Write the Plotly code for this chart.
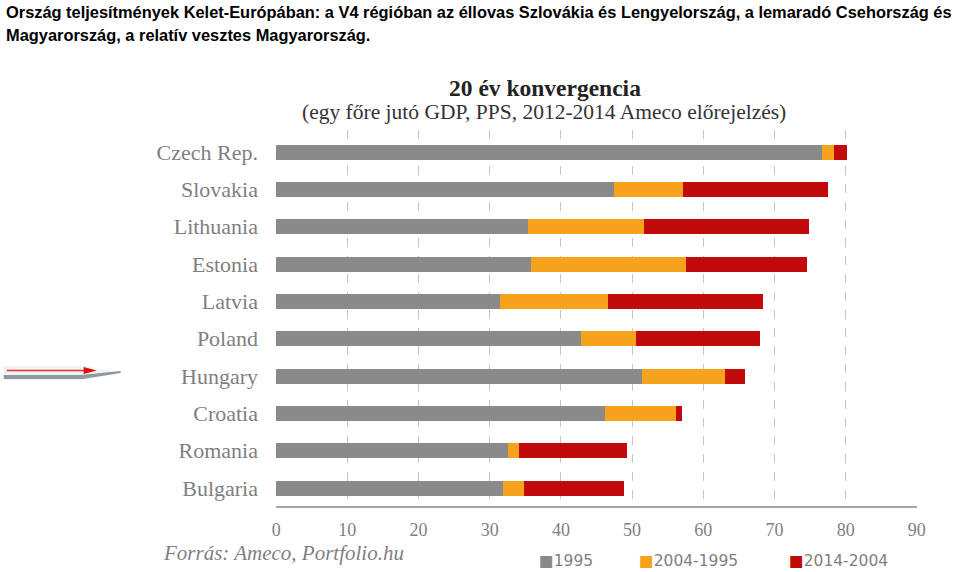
import plotly.graph_objects as go

countries = ["Czech Rep.", "Slovakia", "Lithuania", "Estonia", "Latvia",
             "Poland", "Hungary", "Croatia", "Romania", "Bulgaria"]
v1995 = [76.7, 47.5, 35.4, 35.8, 31.4, 42.8, 51.4, 46.2, 32.6, 31.8]
v2004_1995 = [1.7, 9.7, 16.3, 21.8, 15.2, 7.8, 11.7, 9.9, 1.5, 3.0]
v2014_2004 = [1.8, 20.3, 23.2, 16.9, 21.8, 17.4, 2.8, 0.9, 15.2, 14.1]
series_names = ["1995", "2004-1995", "2014-2004"]
colors = ["#8a8a8a", "#f7a21c", "#c20a0a"]
xticks = [0, 10, 20, 30, 40, 50, 60, 70, 80, 90]

W, H = 960, 572
L, R, T, B = 275.5, 917, 130, 506

def px(x):
    return (x - L) / (R - L)

def py(y):
    return (B - y) / (B - T)

fig = go.Figure()
for name, vals, col in zip(series_names, [v1995, v2004_1995, v2014_2004], colors):
    fig.add_trace(go.Bar(y=countries, x=vals, orientation="h", name=name,
                         marker=dict(color=col, line=dict(width=0)), width=0.4))

serif = "Liberation Serif, DejaVu Serif, serif"
fig.update_layout(
    width=W, height=H, barmode="stack", showlegend=False,
    plot_bgcolor="white", paper_bgcolor="white",
    margin=dict(l=L, r=W - R, t=T, b=H - B, autoexpand=False),
    xaxis=dict(range=[-0.02, 90.02], tickvals=xticks, showgrid=True,
               gridcolor="#c4c4c4", griddash="dash", gridwidth=1,
               zeroline=False, showline=True, linecolor="#a6a6a6", linewidth=1.5,
               tickfont=dict(family=serif, size=18, color="#7f7f7f"),
               ticklabelstandoff=7),
    yaxis=dict(categoryorder="array", categoryarray=countries,
               range=[9.48, -0.59], showgrid=False, zeroline=False,
               tickfont=dict(family=serif, size=22, color="#7f7f7f"),
               ticklabelstandoff=17),
)

ann = []
title_font = dict(family="Liberation Sans, Arial, sans-serif", size=16.4, color="black")
ann.append(dict(text="<b>Ország teljesítmények Kelet-Európában: a V4 régióban az éllovas Szlovákia és Lengyelország, a lemaradó Csehország és</b>",
                x=px(3), y=py(12), xref="paper", yref="paper", xanchor="left", yanchor="middle",
                showarrow=False, font=title_font))
ann.append(dict(text="<b>Magyarország, a relatív vesztes Magyarország.</b>",
                x=px(3), y=py(35), xref="paper", yref="paper", xanchor="left", yanchor="middle",
                showarrow=False, font=title_font))
ann.append(dict(text="<b>20 év konvergencia</b>", x=px(545), y=py(88), xref="paper", yref="paper",
                xanchor="center", yanchor="middle", showarrow=False,
                font=dict(family=serif, size=23.5, color="#222222")))
ann.append(dict(text="(egy főre jutó GDP, PPS, 2012-2014 Ameco előrejelzés)", x=px(544), y=py(112),
                xref="paper", yref="paper", xanchor="center", yanchor="middle", showarrow=False,
                font=dict(family=serif, size=21.5, color="#333333")))
ann.append(dict(text="<i>Forrás: Ameco, Portfolio.hu</i>", x=px(160), y=py(553), xref="paper", yref="paper",
                xanchor="left", yanchor="middle", showarrow=False,
                font=dict(family=serif, size=21, color="#7f7f7f")))
leg_x = [537, 637, 787]
for name, col, lx in zip(series_names, colors, leg_x):
    ann.append(dict(text=f"<span style='color:{col}'>■</span>{name}", x=px(lx), y=py(561),
                    xref="paper", yref="paper", xanchor="left", yanchor="middle", showarrow=False,
                    font=dict(family="DejaVu Sans, sans-serif", size=15.5, color="#7f7f7f")))
fig.update_layout(annotations=ann)

# decorative arrow at Hungary row
shapes = []
shapes.append(dict(type="path", xref="paper", yref="paper",
                   path=f"M {px(3)},{py(366)} L {px(82)},{py(366)} L {px(120)},{py(373)} L {px(82)},{py(380)} L {px(3)},{py(380)} Z",
                   fillcolor="#f2f2f2", line=dict(width=0)))
shapes.append(dict(type="path", xref="paper", yref="paper",
                   path=f"M {px(3)},{py(375)} L {px(80)},{py(375)} L {px(120)},{py(371)} L {px(120)},{py(373)} L {px(82)},{py(379)} L {px(3)},{py(379)} Z",
                   fillcolor="#8e9aa3", line=dict(width=0)))
shapes.append(dict(type="line", xref="paper", yref="paper", x0=px(6), y0=py(370.5), x1=px(86), y1=py(370.5),
                   line=dict(color="#e03030", width=1.5)))
shapes.append(dict(type="path", xref="paper", yref="paper",
                   path=f"M {px(83)},{py(367)} L {px(96)},{py(370.5)} L {px(83)},{py(374)} Z",
                   fillcolor="#e01010", line=dict(width=0)))
fig.update_layout(shapes=shapes)

fig.write_html("out.html", config={"displayModeBar": False},
               post_script="document.body.style.margin='0';document.body.style.overflow='hidden';")
